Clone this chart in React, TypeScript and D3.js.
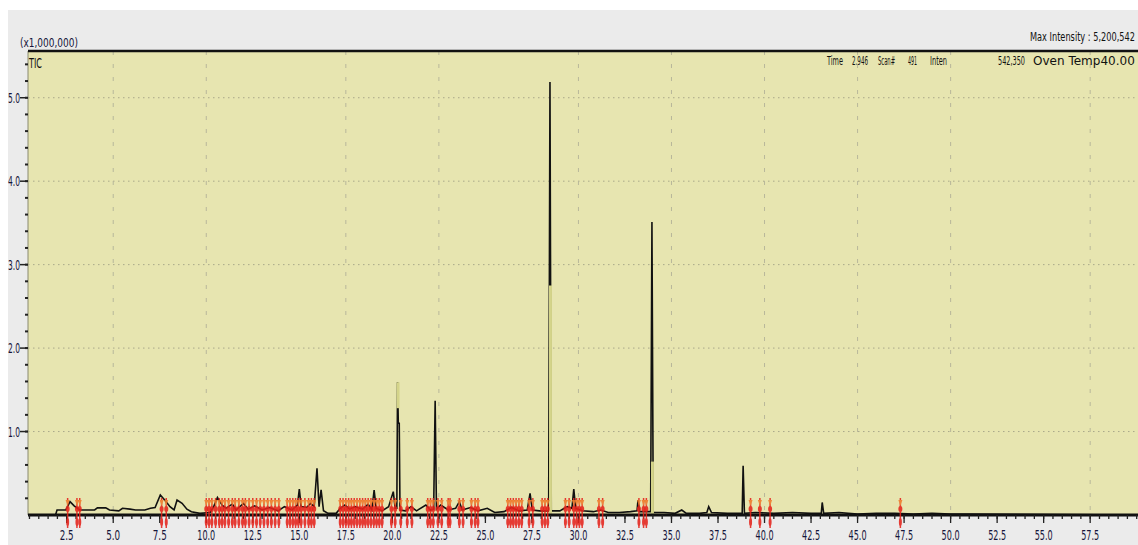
import React from "react";
import * as d3 from "d3";

// ---- data (intensity in units of 1,000,000) ----
const traceTime = [
  0.42, 1.9, 1.98, 2.45, 2.68, 2.9, 3.2, 4.0, 4.15, 4.6, 4.8, 5.3, 5.5, 5.9, 6.2, 6.7, 7.0, 7.25, 7.53, 7.8,
  8.05, 8.27, 8.43, 8.7, 8.96, 9.2, 9.66, 10.2, 10.4, 10.6, 10.85, 11.06, 11.4, 11.6, 12.0, 12.25, 12.6, 13.0,
  13.4, 13.86, 14.2, 14.6, 14.9, 15.0, 15.1, 15.4, 15.6, 15.8, 15.95, 16.06, 16.17, 16.3, 16.55, 16.98, 17.2,
  17.45, 17.7, 18.0, 18.4, 18.7, 18.9, 19.02, 19.13, 19.45, 19.8, 20.05, 20.15, 20.24, 20.28, 20.32, 20.37,
  20.41, 20.7, 21.0, 21.3, 21.8, 22.05, 22.22, 22.3, 22.37, 22.6, 23.0, 23.4, 23.6, 23.75, 24.2, 24.6, 25.1,
  25.5, 26.0, 26.4, 26.8, 27.25, 27.4, 27.52, 27.9, 28.4, 28.47, 28.54, 29.0, 29.4, 29.65, 29.75, 29.85, 30.2,
  30.8, 31.2, 31.6, 32.2, 32.8, 33.15, 33.2, 33.28, 33.88, 33.95, 34.02, 34.6, 35.2, 35.55, 35.8, 36.5, 36.9,
  37.0, 37.15, 38.0, 38.8, 38.85, 38.92, 39.5, 40.5, 41.5, 42.5, 43.05, 43.1, 43.18, 44.0, 45.0, 46.0, 47.0,
  48.0, 49.0, 50.0, 51.0, 60.07,
];
const traceIntensity = [
  0.0, 0.0, 0.06, 0.06, 0.16, 0.11, 0.06, 0.06, 0.085, 0.085, 0.06, 0.05, 0.08, 0.07, 0.06, 0.06, 0.08, 0.09, 0.24, 0.17,
  0.1, 0.06, 0.18, 0.14, 0.07, 0.04, 0.02, 0.03, 0.1, 0.21, 0.12, 0.08, 0.13, 0.06, 0.14, 0.07, 0.11, 0.06,
  0.09, 0.05, 0.1, 0.06, 0.12, 0.31, 0.1, 0.09, 0.14, 0.1, 0.56, 0.1, 0.3, 0.05, 0.02, 0.02, 0.08,
  0.12, 0.07, 0.1, 0.07, 0.13, 0.06, 0.3, 0.08, 0.05, 0.1, 0.28, 0.08, 0.08, 1.59, 1.1, 1.1,
  0.06, 0.05, 0.1, 0.05, 0.12, 0.06, 0.07, 1.37, 0.07, 0.12, 0.06, 0.08, 0.16, 0.06, 0.09, 0.05, 0.08,
  0.03, 0.04, 0.09, 0.05, 0.06, 0.26, 0.06, 0.05, 0.05, 5.19, 0.05, 0.05, 0.1, 0.08, 0.31, 0.08, 0.05,
  0.04, 0.06, 0.03, 0.03, 0.04, 0.05, 0.18, 0.04, 0.04, 3.51, 0.03, 0.03, 0.02, 0.06, 0.02, 0.02, 0.03,
  0.1, 0.03, 0.02, 0.02, 0.59, 0.02, 0.03, 0.02, 0.03, 0.02, 0.02, 0.15, 0.02, 0.03, 0.01, 0.02, 0.02,
  0.01, 0.02, 0.01, 0.01, 0.0,
];

// light-coloured segments drawn over some peaks
const highlightTime = [20.28, 28.47, 33.95];
const highlightLow = [1.28, 0.0, 0.0];
const highlightHigh = [1.59, 2.75, 0.64];

// peak start / end markers (red)
const markerTimes = [
  2.55, 3.05, 3.2, 7.6, 7.85,
  10.0, 10.15, 10.3, 10.5, 10.7, 10.85, 11.0, 11.2, 11.4, 11.55, 11.75, 11.95, 12.1, 12.3, 12.5, 12.7, 12.9,
  13.1, 13.3, 13.5, 13.7, 13.9, 14.35, 14.5, 14.65, 14.8, 14.95, 15.1, 15.3, 15.5, 15.65, 15.8,
  17.2, 17.35, 17.5, 17.65, 17.8, 17.95, 18.1, 18.25, 18.4, 18.55, 18.7, 18.85, 19.0, 19.15, 19.3, 19.45,
  19.95, 20.15, 20.45, 20.8, 21.05, 21.9, 22.05, 22.2, 22.45, 22.65, 23.0, 23.1, 23.6, 23.8, 24.25, 24.45, 24.6,
  26.2, 26.35, 26.5, 26.65, 26.8, 26.95, 27.35, 27.55, 28.05, 28.2, 28.35,
  29.3, 29.5, 29.75, 29.9, 30.05, 30.2, 31.1, 31.3, 33.25, 33.5, 33.65,
  39.25, 39.75, 40.3, 47.3,
];

const xTickLabels = ["2.5", "5.0", "7.5", "10.0", "12.5", "15.0", "17.5", "20.0", "22.5", "25.0", "27.5", "30.0",
  "32.5", "35.0", "37.5", "40.0", "42.5", "45.0", "47.5", "50.0", "52.5", "55.0", "57.5"];
const yTickLabels = ["1.0", "2.0", "3.0", "4.0", "5.0"];
const xGridTimes = [5, 10, 17.5, 22.5, 30, 35, 40, 45, 50, 57.5];

const xDomain = [0.42, 60.07];
const yDomain = [0, 5.56];

const W = 1138;
const H = 545;
const L = 28, R = 1138, T = 51, B = 515;

const FONT = "DejaVu Sans";

let measureCtx: CanvasRenderingContext2D | null = null;
function measure(text: string, size: number): number {
  if (!measureCtx && typeof document !== "undefined") {
    measureCtx = document.createElement("canvas").getContext("2d");
  }
  if (!measureCtx) return text.length * size * 0.6;
  measureCtx.font = `${size}px "${FONT}"`;
  return measureCtx.measureText(text).width;
}

// condensed text: natural glyphs squeezed horizontally to a target width
function NText(props: { x: number; y: number; w: number; size: number; anchor?: string; fill?: string; children: string }) {
  const nat = measure(props.children, props.size);
  const sx = props.w / nat;
  const anchor = props.anchor || "start";
  return (
    <text transform={`translate(${props.x},${props.y}) scale(${sx},1)`} textAnchor={anchor}
      fontFamily={FONT} fontSize={props.size} fill={props.fill || "#111"}>{props.children}</text>
  );
}

export default function App() {
  const x = d3.scaleLinear().domain(xDomain).range([L, R]);
  const y = d3.scaleLinear().domain(yDomain).range([B, T]);

  const pts = traceTime.map((t, i) => [t, traceIntensity[i]] as [number, number]);
  const line = d3.line<[number, number]>().x((d) => x(d[0])).y((d) => y(d[1]));

  const minorX = d3.range(1, 121).map((k) => k * 0.5).filter((t) => t >= xDomain[0] && t <= xDomain[1]);
  const minorY = d3.range(1, 28).map((k) => k * 0.2).filter((v) => v <= yDomain[1]);

  return (
    <svg width={W} height={H} style={{ position: "absolute", left: 0, top: 0, background: "#ffffff" }}>
      <rect x={8} y={10} width={W - 8} height={H - 10} fill="#ebebeb" />
      <rect x={L} y={T} width={R - L} height={B - T} fill="#e7e5b0" />
      <line x1={L} x2={L} y1={T} y2={B} stroke="#8a8a70" strokeWidth={1} />

      {/* horizontal dotted grid */}
      {yTickLabels.map((lab) => (
        <line key={"hg" + lab} x1={L} x2={R} y1={y(+lab)} y2={y(+lab)} stroke="#a9a88a" strokeWidth={1} strokeDasharray="1.5 3.5" />
      ))}
      {/* vertical dashed grid */}
      {xGridTimes.map((t) => (
        <line key={"vg" + t} x1={x(t)} x2={x(t)} y1={T} y2={B} stroke="#b8b79a" strokeWidth={1} strokeDasharray="4 9" />
      ))}

      {/* chromatogram trace */}
      <path d={line(pts) || ""} fill="none" stroke="#111" strokeWidth={1.6} strokeLinejoin="miter" />

      {/* highlight overlays */}
      {highlightTime.map((t, i) => (
        <line key={"hl" + i} x1={x(t) + 0.5} x2={x(t) + 0.5} y1={y(highlightLow[i])} y2={y(highlightHigh[i])}
          stroke="#d4d48a" strokeWidth={3} />
      ))}

      {/* x axis */}
      <line x1={L} x2={R} y1={B} y2={B} stroke="#111" strokeWidth={3} />
      {minorX.map((t) => (
        <line key={"mx" + t} x1={x(t)} x2={x(t)} y1={B} y2={B + 4} stroke="#222" strokeWidth={1.3} />
      ))}
      {xTickLabels.map((lab) => (
        <g key={"xt" + lab}>
          <line x1={x(+lab)} x2={x(+lab)} y1={B} y2={B + 8} stroke="#222" strokeWidth={1.3} />
          <NText x={x(+lab)} y={540} w={lab.length > 3 ? 18 : 14} size={14} anchor="middle" fill="#15153a">{lab}</NText>
        </g>
      ))}

      {/* y axis */}
      {minorY.map((v) => (
        <line key={"my" + v} x1={L - 3} x2={L} y1={y(v)} y2={y(v)} stroke="#222" strokeWidth={2} />
      ))}
      {yTickLabels.map((lab) => (
        <g key={"yt" + lab}>
          <line x1={L - 8} x2={L} y1={y(+lab)} y2={y(+lab)} stroke="#222" strokeWidth={1.5} />
          <NText x={20} y={y(+lab) + 5} w={12} size={14} anchor="end" fill="#15153a">{lab}</NText>
        </g>
      ))}

      {/* peak markers */}
      {markerTimes.map((t, i) => {
        const cx = x(t);
        return (
          <g key={"mk" + i} opacity={0.88}>
            <line x1={cx} x2={cx} y1={B - 17} y2={B + 13} stroke="#e5231b" strokeWidth={1.5} />
            <path d={`M${cx - 2},${B - 15} L${cx + 2},${B - 15} L${cx},${B - 9} Z`} fill="#f07a2a" />
            <ellipse cx={cx} cy={B - 6} rx={2} ry={3} fill="#e5231b" />
            <ellipse cx={cx} cy={B + 7} rx={1.5} ry={4} fill="#e5231b" />
          </g>
        );
      })}

      {/* top border */}
      <line x1={L} x2={R} y1={T} y2={T} stroke="#111" strokeWidth={2.5} />

      {/* texts */}
      <NText x={20} y={47} w={58} size={13} fill="#15153a">(x1,000,000)</NText>
      <NText x={29} y={68} w={13} size={14}>TIC</NText>
      <NText x={1030} y={41} w={105} size={13}>Max Intensity : 5,200,542</NText>
      <NText x={827} y={65} w={16} size={13}>Time</NText>
      <NText x={852} y={65} w={16} size={13}>2.946</NText>
      <NText x={878} y={65} w={17} size={13}>Scan#</NText>
      <NText x={908} y={65} w={9} size={13}>491</NText>
      <NText x={930} y={65} w={17} size={13}>Inten</NText>
      <NText x={998} y={65} w={27} size={13}>542,350</NText>
      <NText x={1033} y={65} w={102} size={13}>Oven Temp40.00</NText>
    </svg>
  );
}
